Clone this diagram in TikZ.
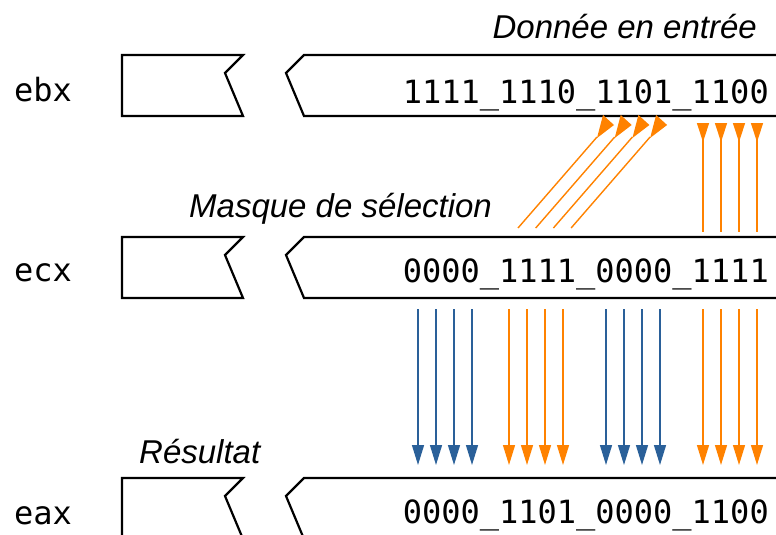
\documentclass[tikz,border=0pt]{standalone}
\usepackage{fontspec}
\setmonofont{DejaVu Sans Mono}
\newfontfamily\lblfont{Liberation Sans}
\usetikzlibrary{arrows.meta}
\definecolor{bitorange}{RGB}{255,130,0}
\definecolor{bitblue}{RGB}{42,96,153}
\tikzset{
  regline/.style={draw=black, line width=2.2pt, line join=miter},
  regname/.style={font=\ttfamily\fontsize{32}{36}\selectfont, inner sep=0pt, anchor=base west},
  bits/.style={font=\ttfamily\fontsize{32}{36}\selectfont, inner sep=0pt, anchor=base east},
  caption/.style={font=\lblfont\itshape\fontsize{33}{37}\selectfont, inner sep=0pt},
  bitline/.style={line width=1.4pt},
  downtip/.style={-{Triangle[length=20pt,width=12pt]}},
  uptip/.style={{Triangle[reversed,length=19pt,width=12pt]}-},
}
\begin{document}
\begin{tikzpicture}[x=1pt,y=-1pt]
\useasboundingbox (0,0) rectangle (776,535);
% registers
\foreach \t in {55,237,478} {
  \draw[regline] (122,\t) -- (243,\t) -- (225,{\t+18}) -- (243,{\t+61}) -- (122,{\t+61}) -- cycle;
  \draw[regline] (790,\t) -- (304,\t) -- (286,{\t+18}) -- (304,{\t+61}) -- (790,{\t+61});
}
% register names
\node[regname] (ebx) at (14,101) {ebx};
\node[regname] (ecx) at (14,281) {ecx};
\node[regname] (eax) at (14,524) {eax};
% values
\node[bits] (vebx) at (769,103) {1111\_1110\_1101\_1100};
\node[bits] (vecx) at (769,282) {0000\_1111\_0000\_1111};
\node[bits] (veax) at (769,523) {0000\_1101\_0000\_1100};
% captions
\node[caption, anchor=base east] (cin) at (757,38) {Donnée en entrée};
\node[caption, anchor=base west] (cmask) at (189,217) {Masque de sélection};
\node[caption, anchor=base west] (cres) at (139,463) {Résultat};
% diagonal arrows (ecx -> ebx, shifted)
\foreach \i in {0,1,2,3} {
  \pgfmathsetmacro{\dx}{17.7*\i}
  \coordinate (ds\i) at ({518+\dx},228);
  \coordinate (de\i) at ({597+\dx},137);
  \draw[bitline, bitorange] (ds\i) -- (de\i);
  \fill[bitorange] ({614+\dx},125) -- ({603+\dx},115) -- ({597+\dx},138) -- cycle;
}
% vertical arrows ebx/ecx
\foreach \x in {703,721,739,757} {
  \coordinate (ua\x) at (\x,123);
  \coordinate (ub\x) at (\x,232);
  \draw[bitline, bitorange, uptip] (ua\x) -- (ub\x);
}
% vertical arrows ecx -> eax
\foreach \x/\c in {418/bitblue,436/bitblue,454/bitblue,472/bitblue,
                   509/bitorange,527/bitorange,545/bitorange,563/bitorange,
                   606/bitblue,624/bitblue,642/bitblue,660/bitblue,
                   703/bitorange,721/bitorange,739/bitorange,757/bitorange} {
  \coordinate (ls\x) at (\x,309);
  \coordinate (le\x) at (\x,465);
  \draw[bitline, \c, downtip] (ls\x) -- (le\x);
}
\end{tikzpicture}
\end{document}
